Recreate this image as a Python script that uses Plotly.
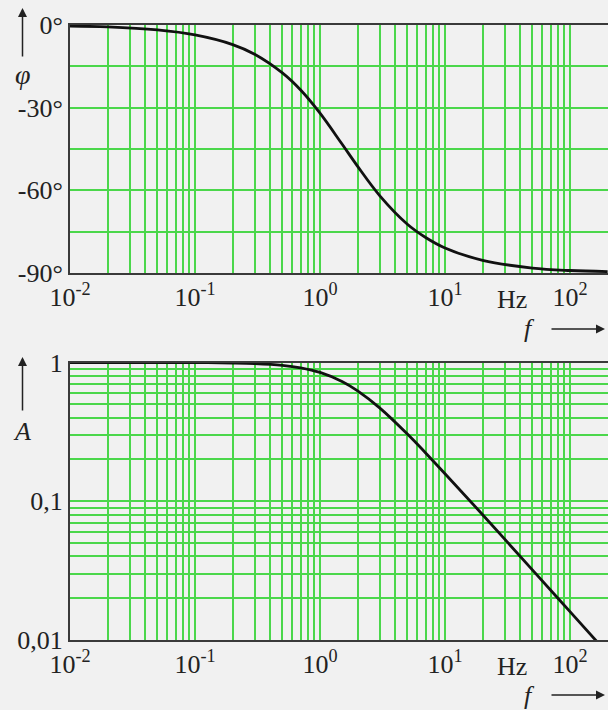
import plotly.graph_objects as go
from plotly.subplots import make_subplots

# ---- data ----
freq_hz = [0.01, 0.02, 0.05, 0.1, 0.2, 0.3, 0.5, 0.7, 1, 1.5, 2, 3, 5, 7, 10, 20, 50, 100, 200]
phase_deg = [-0.4, -0.7, -1.8, -3.6, -7.1, -10.6, -17.4, -23.6, -32.0, -43.2, -51.3, -61.9,
             -72.3, -77.1, -80.9, -85.4, -88.2, -89.1, -89.5]
amplitude = [1.0, 0.9999, 0.9995, 0.998, 0.992, 0.983, 0.955, 0.916, 0.848, 0.730, 0.625, 0.471,
             0.305, 0.223, 0.158, 0.080, 0.032, 0.016, 0.008]

x_decades = [-2, -1, 0, 1, 2]
x_tick_labels = ["10<sup>-2</sup>", "10<sup>-1</sup>", "10<sup>0</sup>", "10<sup>1</sup>", "10<sup>2</sup>"]
phase_ticks = [0, -30, -60, -90]
phase_tick_labels = ["0°", "-30°", "-60°", "-90°"]
phase_minor = [-15, -45, -75]
amp_decades = [-2, -1, 0]
amp_tick_labels = ["0,01", "0,1", "1"]

W, H = 608, 710
GRID = "rgb(75,215,75)"
GW = 1.5
AXIS = "#3a3a3a"
TXT = "#222222"
FONT = "Liberation Serif, Times New Roman, serif"
FS = 26


def px(x):
    return x / W


def py(y):
    return 1 - y / H


# decade ticks (labelled) and 2..9 sub-grid positions
x_major = [10 ** k for k in x_decades]
x_minor = [m * 10 ** k for k in x_decades[:-1] for m in range(2, 10)]
a_major = [10 ** k for k in amp_decades]
a_minor = [m * 10 ** k for k in amp_decades[:-1] for m in range(2, 10)]

fig = make_subplots(rows=2, cols=1)

fig.add_trace(go.Scatter(x=freq_hz, y=phase_deg, mode="lines",
                         line=dict(color="#111111", width=2.8, shape="spline"),
                         showlegend=False), row=1, col=1)
fig.add_trace(go.Scatter(x=freq_hz, y=amplitude, mode="lines",
                         line=dict(color="#111111", width=2.8, shape="spline"),
                         showlegend=False), row=2, col=1)

minor_grid = dict(showgrid=True, gridcolor=GRID, gridwidth=GW, ticks="")
xr = [-2, -2 + (W - 70) / 125.0]
fig.update_xaxes(type="log", range=xr, tickmode="array", tickvals=x_major, ticktext=x_tick_labels,
                 minor=dict(tickmode="array", tickvals=x_minor, **minor_grid),
                 showgrid=True, gridcolor=GRID, gridwidth=GW, zeroline=False,
                 showline=True, linecolor=AXIS, linewidth=2, mirror=True, ticks="",
                 automargin=False, tickfont=dict(family=FONT, size=FS, color=TXT),
                 domain=[px(70), 1.0])
fig.update_yaxes(row=1, col=1, range=[-90, 0], tickmode="array", tickvals=phase_ticks,
                 ticktext=phase_tick_labels,
                 minor=dict(tickmode="array", tickvals=phase_minor, **minor_grid),
                 domain=[py(273), py(25)])
fig.update_yaxes(row=2, col=1, type="log", range=[-2, 0], tickmode="array", tickvals=a_major,
                 ticktext=amp_tick_labels,
                 minor=dict(tickmode="array", tickvals=a_minor, **minor_grid),
                 domain=[py(640), py(362.5)])
fig.update_yaxes(showgrid=True, gridcolor=GRID, gridwidth=GW, zeroline=False,
                 showline=True, linecolor=AXIS, linewidth=2, mirror=False, ticks="",
                 automargin=False, tickfont=dict(family=FONT, size=FS, color=TXT))

ann_font = dict(family=FONT, size=FS, color=TXT)
annotations = []
for (hz_y, f_y, arr_y) in [(299, 328, 329), (666, 695, 695)]:
    annotations.append(dict(x=px(512), y=py(hz_y), xref="paper", yref="paper", text="Hz",
                            showarrow=False, font=ann_font, xanchor="center", yanchor="middle"))
    annotations.append(dict(x=px(529), y=py(f_y), xref="paper", yref="paper", text="<i>f</i>",
                            showarrow=False, font=ann_font, xanchor="center", yanchor="middle"))
    annotations.append(dict(x=px(605), y=py(arr_y), xref="paper", yref="paper", text="",
                            showarrow=True, ax=-55, ay=0, arrowhead=2, arrowsize=1.2,
                            arrowwidth=1.5, arrowcolor=TXT))
# vertical axis symbols
annotations.append(dict(x=px(23), y=py(75), xref="paper", yref="paper", text="<i>φ</i>",
                        showarrow=False, font=dict(family=FONT, size=28, color=TXT),
                        xanchor="center", yanchor="middle"))
annotations.append(dict(x=px(22.5), y=py(8), xref="paper", yref="paper", text="",
                        showarrow=True, ax=0, ay=50, arrowhead=2, arrowsize=1.2,
                        arrowwidth=1.5, arrowcolor=TXT))
annotations.append(dict(x=px(22), y=py(431), xref="paper", yref="paper", text="<i>A</i>",
                        showarrow=False, font=ann_font, xanchor="center", yanchor="middle"))
annotations.append(dict(x=px(22.5), y=py(357), xref="paper", yref="paper", text="",
                        showarrow=True, ax=0, ay=55, arrowhead=2, arrowsize=1.2,
                        arrowwidth=1.5, arrowcolor=TXT))

fig.update_layout(template="none", width=W, height=H, margin=dict(l=0, r=0, t=0, b=0),
                  paper_bgcolor="#f1f1f1", plot_bgcolor="#f1f1f1",
                  annotations=annotations, showlegend=False)

fig.write_html("out.html", config={"displayModeBar": False},
               post_script="document.body.style.margin='0';")
